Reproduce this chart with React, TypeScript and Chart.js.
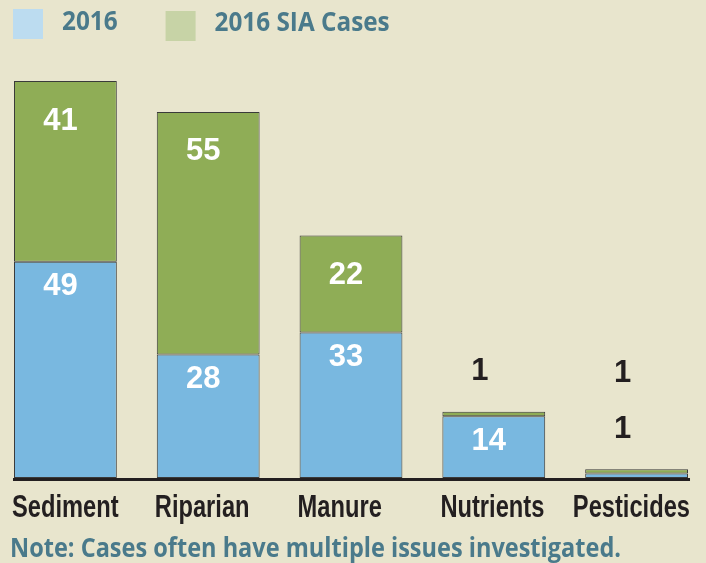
import React, { useEffect, useRef } from "react";
import { Chart, registerables } from "chart.js";

Chart.register(...registerables);

const categories = ["Sediment", "Riparian", "Manure", "Nutrients", "Pesticides"];
const cases2016 = [49, 28, 33, 14, 1];
const siaCases = [41, 55, 22, 1, 1];
const seriesLabels = ["2016", "2016 SIA Cases"];
const noteText = "Note: Cases often have multiple issues investigated.";
const yMax = 90;

const BG = "#e8e5cd";
const BAR_COLORS = ["#79b8e0", "#8fad56"];
const LEGEND_COLORS = ["#bcdcf0", "#c7d3a6"];
const TEAL = "#4a7a8b";
const DARK = "#231f20";
const SHIFT = 6;
const W = 714;
const H = 563;

export default function App() {
  const ref = useRef<HTMLCanvasElement>(null);

  useEffect(() => {
    const canvas = ref.current;
    if (!canvas) return;

    const decor = {
      id: "decor",
      beforeDraw(chart: any) {
        const ctx = chart.ctx;
        ctx.save();
        ctx.fillStyle = BG;
        ctx.fillRect(0, 0, chart.width, chart.height);
        ctx.restore();
      },
      afterDraw(chart: any) {
        const ctx = chart.ctx;
        const n = chart.data.labels.length;
        const nds = chart.data.datasets.length;
        const yScale = chart.scales.y;
        ctx.save();

        // axis line
        const m0 = chart.getDatasetMeta(0);
        const first = m0.data[0].getProps(["x", "width"], true);
        const last = m0.data[n - 1].getProps(["x", "width"], true);
        const y0 = yScale.getPixelForValue(0);
        ctx.strokeStyle = DARK;
        ctx.lineWidth = 3;
        ctx.beginPath();
        ctx.moveTo(first.x - first.width / 2 - 1, y0 + 1.5);
        ctx.lineTo(last.x + last.width / 2 + 2, y0 + 1.5);
        ctx.stroke();

        // value labels
        const stacked = new Array(n).fill(0);
        ctx.textAlign = "center";
        ctx.textBaseline = "middle";
        ctx.font = "bold 31px 'Liberation Sans', Arial, sans-serif";
        chart.data.datasets.forEach((ds: any, di: number) => {
          const meta = chart.getDatasetMeta(di);
          meta.data.forEach((bar: any, i: number) => {
            const p = bar.getProps(["x", "y", "base"], true);
            const h = Math.abs(p.base - p.y);
            const v = ds.data[i];
            if (h >= 30) {
              ctx.fillStyle = "#ffffff";
              ctx.fillText(String(v), p.x - 5, p.y + (di === 0 ? 25 : 40));
            } else {
              const topBar = chart.getDatasetMeta(nds - 1).data[i].getProps(["y"], true);
              ctx.fillStyle = DARK;
              ctx.fillText(String(v), p.x - 14, topBar.y - 40 - stacked[i] * 56);
              stacked[i]++;
            }
          });
        });

        // category labels (condensed bold)
        ctx.fillStyle = DARK;
        ctx.textBaseline = "alphabetic";
        ctx.textAlign = "left";
        ctx.font = "bold 32px 'Liberation Sans', Arial, sans-serif";
        const labelBase = y0 + 39;
        chart.data.labels.forEach((lab: string, i: number) => {
          const p = m0.data[i].getProps(["x", "width"], true);
          const tw = ctx.measureText(lab).width * 0.74;
          let x = p.x - p.width / 2 - 2;
          const limit = 690 + SHIFT;
          if (x + tw > limit) x = limit - tw;
          ctx.fillText(lab, x, labelBase, tw);
        });

        // legend
        ctx.font = "bold 27px 'Open Sans', sans-serif";
        ctx.textBaseline = "alphabetic";
        let cursor = 13 + SHIFT;
        chart.data.datasets.forEach((ds: any, di: number) => {
          const by = 9 + di * 2;
          ctx.fillStyle = LEGEND_COLORS[di];
          ctx.fillRect(cursor, by, 30, 30);
          const tx = cursor + 49;
          const tw = ctx.measureText(ds.label).width * 0.9;
          ctx.fillStyle = TEAL;
          ctx.fillText(ds.label, tx, 30 + di, tw);
          cursor = tx + tw + 48;
        });

        // note
        ctx.font = "bold 26px 'Open Sans', sans-serif";
        ctx.fillStyle = TEAL;
        ctx.fillText(noteText, 10 + SHIFT, 557, 611);

        ctx.restore();
      },
    };

    const chart = new Chart(canvas, {
      type: "bar",
      data: {
        labels: categories,
        datasets: [
          {
            label: seriesLabels[0],
            data: cases2016,
            backgroundColor: BAR_COLORS[0],
            borderColor: "#3a3a3a",
            borderWidth: 1,
            borderSkipped: false,
          },
          {
            label: seriesLabels[1],
            data: siaCases,
            backgroundColor: BAR_COLORS[1],
            borderColor: "#3a3a3a",
            borderWidth: 1,
            borderSkipped: false,
          },
        ],
      },
      options: {
        responsive: false,
        animation: false,
        devicePixelRatio: 1,
        layout: { padding: { top: 81, bottom: H - 478, left: 0, right: 0 } },
        datasets: { bar: { categoryPercentage: 1, barPercentage: 0.72 } } as any,
        scales: {
          x: { stacked: true, display: false, offset: true, grid: { display: false } },
          y: { stacked: true, display: false, min: 0, max: yMax, grid: { display: false } },
        },
        plugins: { legend: { display: false }, tooltip: { enabled: false } },
      },
      plugins: [decor],
    });

    return () => chart.destroy();
  }, []);

  return (
    <div
      style={{
        position: "fixed",
        left: 0,
        top: 0,
        width: 706,
        height: 563,
        overflow: "hidden",
        background: BG,
      }}
    >
      <canvas
        ref={ref}
        width={W}
        height={H}
        style={{ position: "absolute", left: -SHIFT, top: 0, display: "block", width: W, height: H }}
      />
    </div>
  );
}
